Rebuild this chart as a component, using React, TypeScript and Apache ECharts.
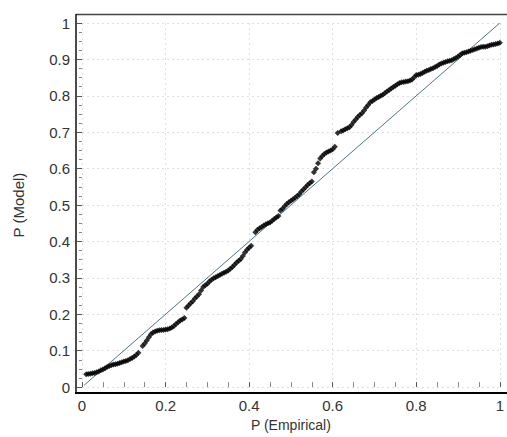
import React, { useEffect, useRef } from "react";
import * as echarts from "echarts";

// P-P plot points: [P (Empirical), P (Model)]
const ppPoints: [number, number][] = [
  [0.01, 0.035], [0.02, 0.037], [0.03, 0.039], [0.04, 0.043], [0.05, 0.048],
  [0.06, 0.055], [0.07, 0.06], [0.08, 0.063], [0.09, 0.066], [0.1, 0.07],
  [0.11, 0.074], [0.12, 0.08], [0.13, 0.088], [0.135, 0.094], [0.145, 0.113],
  [0.15, 0.12], [0.16, 0.137], [0.17, 0.15], [0.18, 0.155], [0.19, 0.157],
  [0.2, 0.158], [0.21, 0.161], [0.22, 0.168], [0.23, 0.178], [0.24, 0.186],
  [0.245, 0.19], [0.25, 0.218], [0.26, 0.23], [0.27, 0.243], [0.28, 0.255],
  [0.29, 0.275], [0.3, 0.284], [0.31, 0.295], [0.32, 0.302], [0.33, 0.308],
  [0.34, 0.314], [0.35, 0.32], [0.36, 0.33], [0.37, 0.342], [0.38, 0.352],
  [0.39, 0.37], [0.4, 0.383], [0.405, 0.388], [0.415, 0.425], [0.42, 0.432],
  [0.43, 0.44], [0.44, 0.447], [0.45, 0.452], [0.46, 0.462], [0.47, 0.47],
  [0.475, 0.485], [0.48, 0.49], [0.49, 0.503], [0.5, 0.512], [0.51, 0.52],
  [0.52, 0.53], [0.53, 0.543], [0.54, 0.555], [0.55, 0.565], [0.555, 0.59],
  [0.56, 0.6], [0.57, 0.628], [0.58, 0.64], [0.59, 0.647], [0.6, 0.653],
  [0.605, 0.66], [0.612, 0.698], [0.62, 0.703], [0.63, 0.708], [0.64, 0.714],
  [0.65, 0.728], [0.66, 0.742], [0.67, 0.752], [0.68, 0.768], [0.69, 0.782],
  [0.7, 0.79], [0.71, 0.797], [0.72, 0.803], [0.73, 0.812], [0.74, 0.82],
  [0.75, 0.828], [0.76, 0.835], [0.77, 0.838], [0.78, 0.84], [0.79, 0.845],
  [0.8, 0.857], [0.81, 0.86], [0.82, 0.866], [0.83, 0.871], [0.84, 0.876],
  [0.85, 0.882], [0.86, 0.889], [0.87, 0.893], [0.88, 0.896], [0.89, 0.901],
  [0.9, 0.908], [0.91, 0.917], [0.92, 0.92], [0.93, 0.924], [0.94, 0.928],
  [0.95, 0.932], [0.96, 0.935], [0.97, 0.936], [0.98, 0.94], [0.99, 0.942],
  [1.0, 0.946],
];

// Further points read between the ones above
const ppPointsMid: [number, number][] = [
  [0.015, 0.036], [0.025, 0.038], [0.035, 0.041], [0.045, 0.046], [0.055, 0.052],
  [0.065, 0.058], [0.075, 0.062], [0.085, 0.064], [0.095, 0.068], [0.105, 0.072],
  [0.115, 0.077], [0.125, 0.084], [0.155, 0.128], [0.165, 0.145], [0.175, 0.153],
  [0.185, 0.156], [0.195, 0.157], [0.205, 0.159], [0.215, 0.164], [0.225, 0.173],
  [0.235, 0.183], [0.255, 0.224], [0.265, 0.236], [0.275, 0.249], [0.285, 0.265],
  [0.295, 0.28], [0.305, 0.29], [0.315, 0.299], [0.325, 0.305], [0.335, 0.311],
  [0.345, 0.317], [0.355, 0.325], [0.365, 0.336], [0.375, 0.347], [0.385, 0.36],
  [0.395, 0.377], [0.425, 0.436], [0.435, 0.444], [0.445, 0.45], [0.455, 0.457],
  [0.465, 0.466], [0.485, 0.497], [0.495, 0.508], [0.505, 0.516], [0.515, 0.525],
  [0.525, 0.537], [0.535, 0.549], [0.545, 0.56], [0.565, 0.615], [0.575, 0.635],
  [0.585, 0.644], [0.595, 0.65], [0.625, 0.705], [0.635, 0.711], [0.645, 0.72],
  [0.655, 0.735], [0.665, 0.747], [0.675, 0.76], [0.685, 0.775], [0.695, 0.786],
  [0.705, 0.794], [0.715, 0.8], [0.725, 0.808], [0.735, 0.816], [0.745, 0.824],
  [0.755, 0.832], [0.765, 0.837], [0.775, 0.839], [0.785, 0.842], [0.795, 0.851],
  [0.805, 0.858], [0.815, 0.863], [0.825, 0.869], [0.835, 0.874], [0.845, 0.879],
  [0.855, 0.886], [0.865, 0.891], [0.875, 0.895], [0.885, 0.898], [0.895, 0.904],
  [0.905, 0.912], [0.915, 0.918], [0.925, 0.922], [0.935, 0.926], [0.945, 0.93],
  [0.955, 0.934], [0.965, 0.935], [0.975, 0.938], [0.985, 0.941], [0.995, 0.944],
];

// Reference diagonal (perfect fit)
const diagonal: [number, number][] = [
  [0.005, 0.005],
  [1, 1],
];

const xRange = [0, 1];
const yRange = [0, 1];
const xStep = 0.2;
const yStep = 0.1;
const xTitle = "P (Empirical)";
const yTitle = "P (Model)";

export default function App() {
  const ref = useRef<HTMLDivElement>(null);

  useEffect(() => {
    if (!ref.current) return;
    const chart = echarts.init(ref.current, null, { renderer: "svg" });
    const font = "'Liberation Sans', Arial, sans-serif";
    const textColor = "#333";
    const gridLine = { show: true, lineStyle: { color: "#e0e0e0", type: [2, 3], width: 1 } };
    chart.setOption({
      animation: false,
      backgroundColor: "#fff",
      grid: { left: 82, right: 7, top: 23, bottom: 48, containLabel: false },
      xAxis: {
        type: "value",
        min: xRange[0],
        max: xRange[1],
        interval: xStep,
        offset: 4,
        name: xTitle,
        nameLocation: "middle",
        nameGap: 19,
        nameTextStyle: { fontFamily: font, fontSize: 14, color: textColor },
        axisLine: { show: false },
        axisTick: { show: true, inside: true, length: 5, lineStyle: { color: "#555" } },
        minorTick: { show: true, splitNumber: 4, length: 5, lineStyle: { color: "#888" } },
        axisLabel: { margin: 7, fontFamily: font, fontSize: 15, color: textColor },
        splitLine: gridLine,
        minorSplitLine: { show: false },
      },
      yAxis: {
        type: "value",
        min: yRange[0],
        max: yRange[1],
        interval: yStep,
        offset: 6,
        name: yTitle,
        nameLocation: "middle",
        nameGap: 50,
        nameRotate: 90,
        nameTextStyle: { fontFamily: font, fontSize: 15, color: textColor },
        axisLine: { show: false },
        axisTick: { show: true, inside: false, length: 5, lineStyle: { color: "#555" } },
        minorTick: { show: true, splitNumber: 4, length: 3, lineStyle: { color: "#888" } },
        axisLabel: { margin: 6, fontFamily: font, fontSize: 15, color: textColor },
        splitLine: gridLine,
      },
      graphic: [
        { type: "line", shape: { x1: 76, y1: 14.5, x2: 507, y2: 14.5 }, style: { stroke: "#444", lineWidth: 1.5 }, z: 100 },
        { type: "line", shape: { x1: 76, y1: 14, x2: 76, y2: 394 }, style: { stroke: "#111", lineWidth: 1.5 }, z: 100 },
        { type: "line", shape: { x1: 75, y1: 393, x2: 507, y2: 393 }, style: { stroke: "#000", lineWidth: 2 }, z: 100 },
      ],
      series: [
        {
          type: "line",
          data: diagonal,
          showSymbol: false,
          symbol: "none",
          lineStyle: { color: "#4f7585", width: 1 },
          z: 2,
          silent: true,
        },
        {
          type: "scatter",
          data: [...ppPoints, ...ppPointsMid],
          symbol: "diamond",
          symbolSize: 6,
          itemStyle: { color: "#000" },
          clip: false,
          z: 3,
        },
      ],
    });
    return () => chart.dispose();
  }, []);

  return (
    <div
      ref={ref}
      style={{ position: "fixed", left: 0, top: 0, width: 507, height: 437, background: "#fff" }}
    />
  );
}
